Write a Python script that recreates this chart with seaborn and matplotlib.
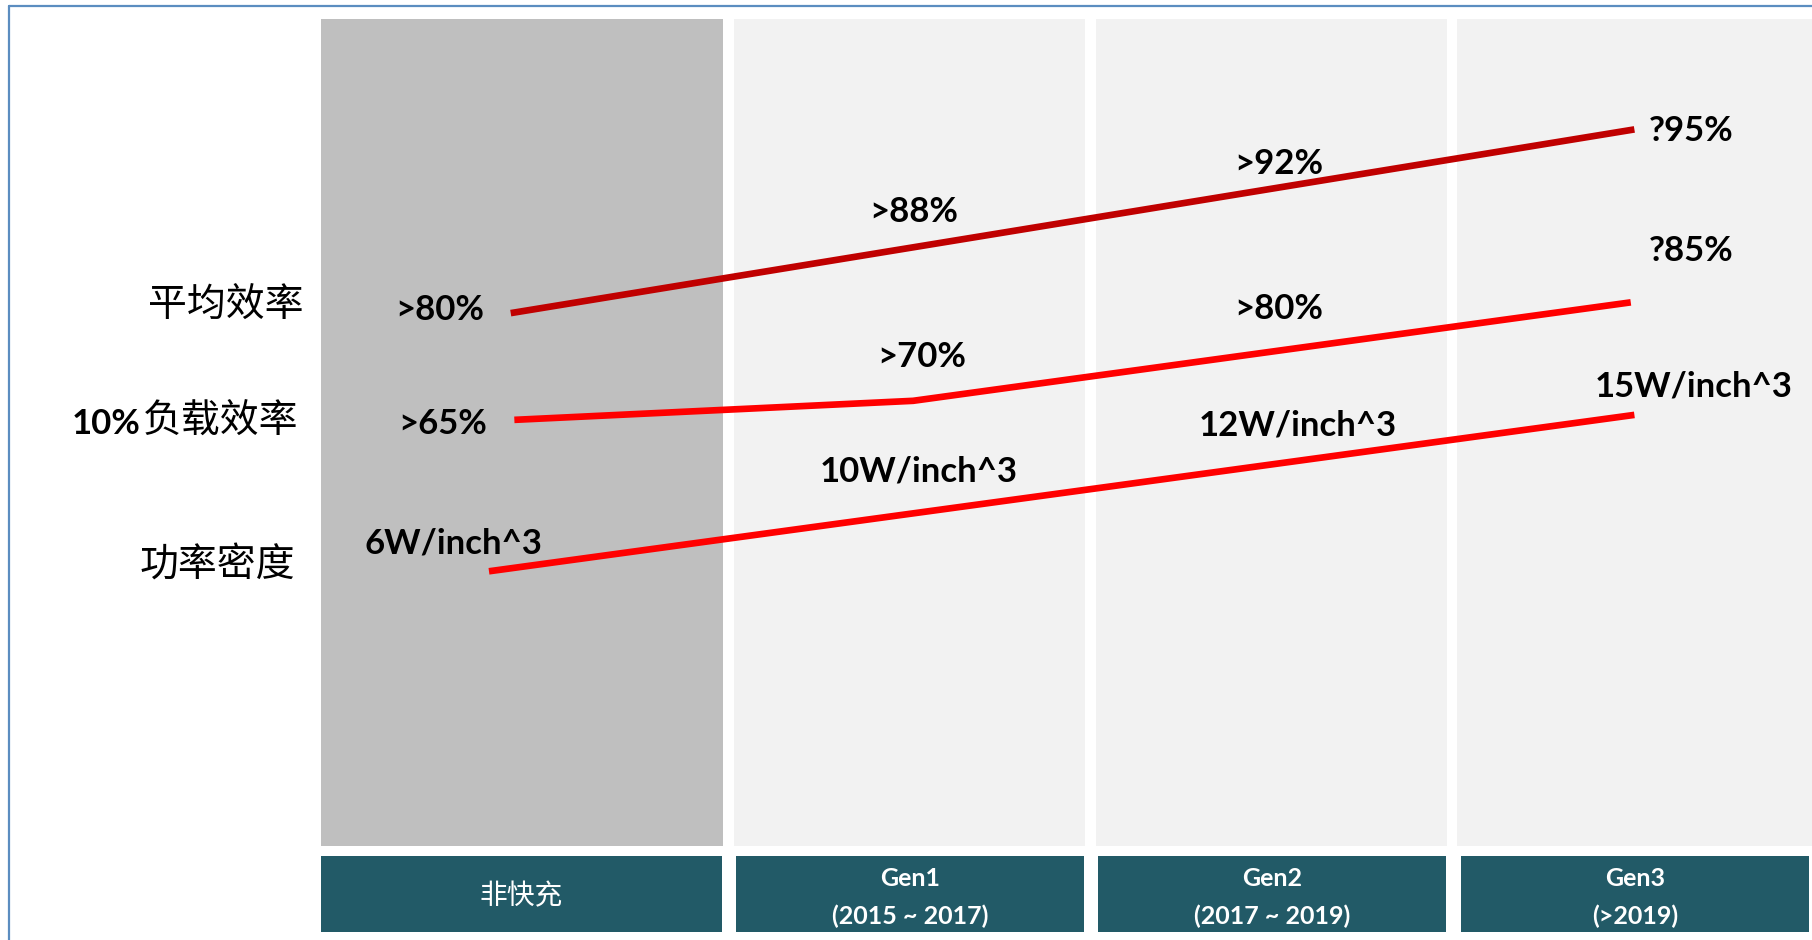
import matplotlib
matplotlib.use("Agg")
import matplotlib.pyplot as plt
import seaborn as sns
import pandas as pd
from matplotlib.lines import Line2D

# ---------------- data ----------------
stages = ["非快充", "Gen1", "Gen2", "Gen3"]
stage_years = ["", "(2015 ~ 2017)", "(2017 ~ 2019)", "(>2019)"]
metrics = ["平均效率", "10%负载效率", "功率密度"]

# stage coordinate (column centre = 0..3) and relative level (0..100)
avg_eff_x = [-0.10, 3.00]
avg_eff_level = [64.4, 86.6]
avg_eff_labels = [">80%", ">88%", ">92%", "?95%"]

low_load_x = [-0.09, 1.01, 2.99]
low_load_level = [51.5, 53.8, 65.7]
low_load_labels = [">65%", ">70%", ">80%", "?85%"]

density_x = [-0.16, 3.00]
density_level = [33.2, 52.1]
density_labels = ["6W/inch^3", "10W/inch^3", "12W/inch^3", "15W/inch^3"]

# ---------------- layout / style ----------------
W, H = 1812, 940
sns.set_theme(style="white")
plt.rcParams["font.family"] = ["Lato", "Noto Sans CJK SC", "DejaVu Sans"]
CJK = ["Noto Sans CJK SC", "DejaVu Sans"]

fig = plt.figure(figsize=(W / 100, H / 100), dpi=100)
ax = fig.add_axes([0, 0, 1, 1])
ax.set_xlim(-1.509, 3.490)
ax.set_ylim(-11.36, 102.24)
ax.axis("off")

col_centers = [-0.069, 1.0, 2.0, 3.0]
col_widths = [1.109, 0.968, 0.968, 0.98]
col_colors = ["#BFBFBF", "#F2F2F2", "#F2F2F2", "#F2F2F2"]
ax.bar(col_centers, 100, width=col_widths, bottom=0, color=col_colors,
       linewidth=0, zorder=1)

hdr_centers = [-0.0705, 1.001, 2.0, 3.001]
hdr_widths = [1.107, 0.96, 0.962, 0.96]
ax.bar(hdr_centers, 9.18, width=hdr_widths, bottom=-10.39, color="#225A67",
       linewidth=0, zorder=1)

for i, name in enumerate(stages):
    if stage_years[i]:
        ax.text(hdr_centers[i], -3.9, name, ha="center", va="center",
                color="white", fontsize=18, fontweight="bold", zorder=3)
        ax.text(hdr_centers[i], -8.45, stage_years[i], ha="center", va="center",
                color="white", fontsize=18, fontweight="bold", zorder=3)
    else:
        ax.text(hdr_centers[i], -6.05, name, ha="center", va="center",
                color="white", fontsize=20, family=CJK, zorder=3)

# ---------------- lines ----------------
rows = []
for m, xs, ys in [(metrics[0], avg_eff_x, avg_eff_level),
                  (metrics[1], low_load_x, low_load_level),
                  (metrics[2], density_x, density_level)]:
    for x, y in zip(xs, ys):
        rows.append({"metric": m, "stage": x, "level": y})
df = pd.DataFrame(rows)
palette = {metrics[0]: "#C00000", metrics[1]: "#FF0000", metrics[2]: "#FF0000"}
sns.lineplot(data=df, x="stage", y="level", hue="metric", palette=palette,
             linewidth=4.8, legend=False, sort=False, estimator=None, ax=ax,
             zorder=2)
for ln in ax.lines:
    ln.set_solid_capstyle("butt")
ax.set_xlim(-1.509, 3.490)
ax.set_ylim(-11.36, 102.24)
ax.axis("off")

# ---------------- value labels ----------------
label_layout = [
    (avg_eff_labels, [-0.295, 1.012, 2.019, 3.156], [64.8, 76.6, 82.4, 86.4]),
    (low_load_labels, [-0.287, 1.034, 2.019, 3.156], [51.0, 59.1, 64.9, 71.9]),
    (density_labels, [-0.257, 1.026, 2.072, 3.164], [36.6, 45.3, 50.8, 55.5]),
]
for labels, xs, ys in label_layout:
    for t, x, y in zip(labels, xs, ys):
        ax.text(x, y, t, ha="center", va="center", fontsize=25,
                fontweight="bold", color="black", zorder=4)

# ---------------- row labels ----------------
fig.text(303 / W, 1 - 306 / H, metrics[0], ha="right", va="center",
         fontsize=28, family=CJK, color="black")
fig.text(298 / W, 1 - 422 / H, metrics[1][3:], ha="right", va="center",
         fontsize=28, family=CJK, color="black")
fig.text(141 / W, 1 - 424 / H, metrics[1][:3], ha="right", va="center",
         fontsize=25, fontweight="bold", color="black")
fig.text(295 / W, 1 - 566 / H, metrics[2], ha="right", va="center",
         fontsize=28, family=CJK, color="black")

# ---------------- frame border ----------------
fig.add_artist(Line2D([9 / W, 1], [1 - 6 / H, 1 - 6 / H], transform=fig.transFigure,
                      color="#5B8DC0", linewidth=1.6))
fig.add_artist(Line2D([9 / W, 9 / W], [0, 1 - 6 / H], transform=fig.transFigure,
                      color="#5B8DC0", linewidth=1.6))

fig.savefig("out.png", dpi=100, facecolor="white")
